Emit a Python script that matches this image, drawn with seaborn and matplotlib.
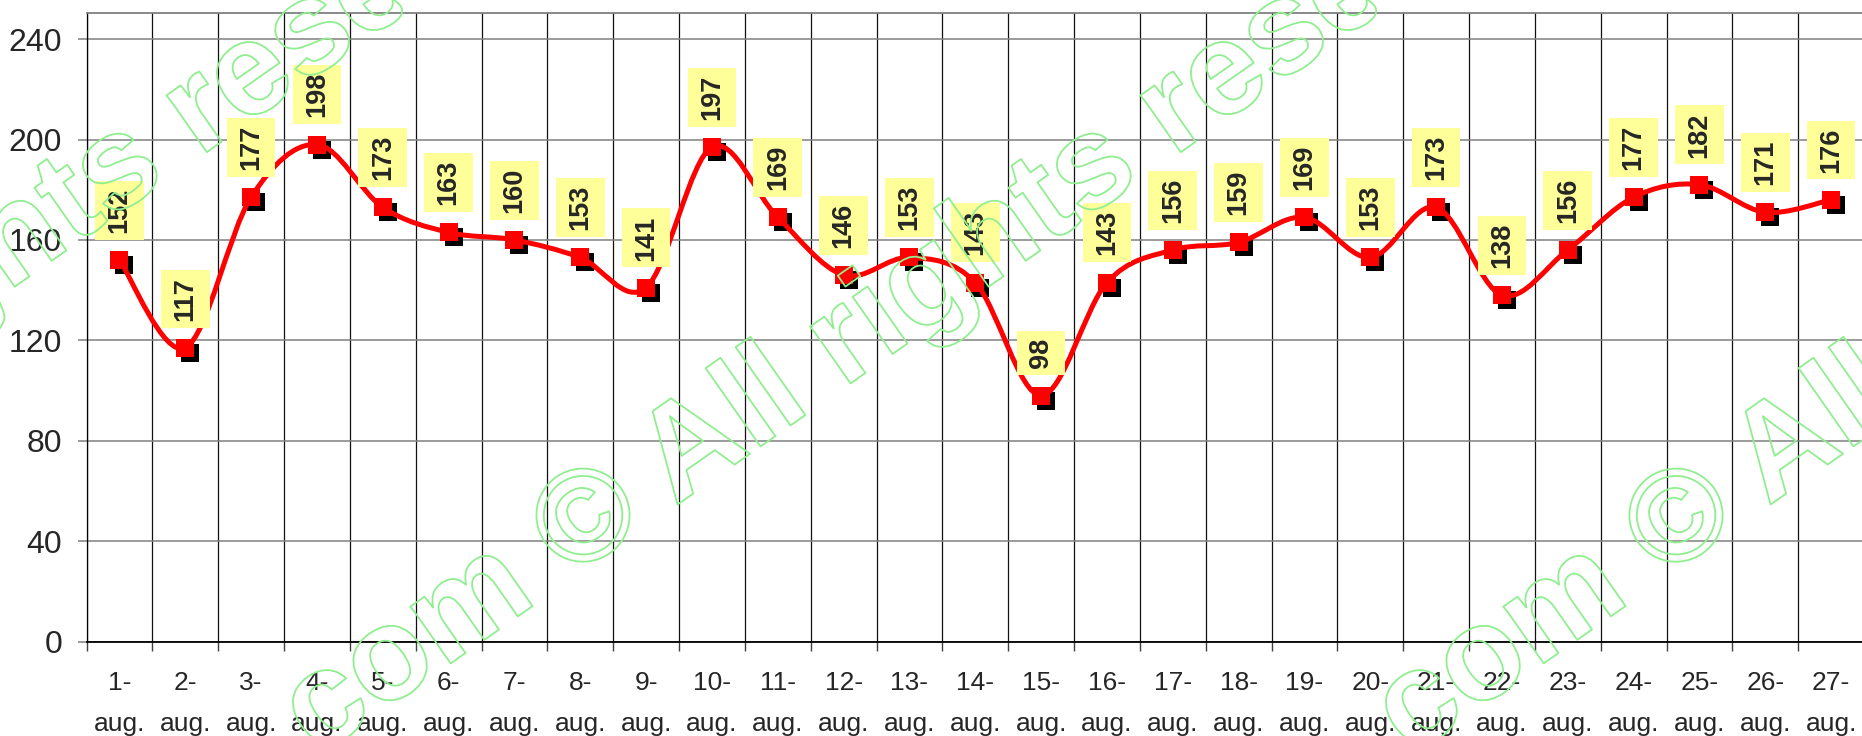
import numpy as np
import pandas as pd
import seaborn as sns
import matplotlib.pyplot as plt
from matplotlib.path import Path
from matplotlib.patches import PathPatch
from matplotlib.ticker import FixedLocator
from matplotlib.transforms import offset_copy
from matplotlib import patheffects as pe

# data
day_numbers = list(range(1, 28))
day_labels = [f"{d}-\naug." for d in day_numbers]
values = [152, 117, 177, 198, 173, 163, 160, 153, 141, 197, 169, 146, 153, 143,
          98, 143, 156, 159, 169, 153, 173, 138, 156, 177, 182, 171, 176]
y_ticks = [0, 40, 80, 120, 160, 200, 240]
watermark = "com \u00a9 All rights reserved"

sns.set_style('white')
plt.rcParams['font.family'] = ['Liberation Sans', 'DejaVu Sans']

W, H = 1862, 736
fig = plt.figure(figsize=(W / 100, H / 100), dpi=100)
ax = fig.add_axes([86.5 / W, (H - 641.5) / H, 1777.5 / W, (641.5 - 13) / H])

df = pd.DataFrame({'day': np.arange(len(values)), 'value': values})

# smoothed line (excel style bezier through the points)
xs = df['day'].to_numpy(dtype=float)
ys = df['value'].to_numpy(dtype=float)
n = len(xs)
verts = [(xs[0], ys[0])]
codes = [Path.MOVETO]
for i in range(n - 1):
    x0, y0 = (xs[i - 1], ys[i - 1]) if i > 0 else (xs[i], ys[i])
    x3, y3 = (xs[i + 2], ys[i + 2]) if i + 2 < n else (xs[i + 1], ys[i + 1])
    c1 = (xs[i] + (xs[i + 1] - x0) / 6, ys[i] + (ys[i + 1] - y0) / 6)
    c2 = (xs[i + 1] - (x3 - xs[i]) / 6, ys[i + 1] - (y3 - ys[i]) / 6)
    verts += [c1, c2, (xs[i + 1], ys[i + 1])]
    codes += [Path.CURVE4] * 3
ax.add_patch(PathPatch(Path(verts, codes), fc='none', ec='#ff0000', lw=3.6,
                       capstyle='round', joinstyle='round', zorder=4))

# markers with black shadow
shadow = offset_copy(ax.transData, fig=fig, x=5, y=-5, units='dots')
sns.scatterplot(data=df, x='day', y='value', marker='s', s=165, color='black',
                linewidth=0, transform=shadow, zorder=3, ax=ax, legend=False)
sns.scatterplot(data=df, x='day', y='value', marker='s', s=165, color='#ff0000',
                linewidth=0, zorder=5, ax=ax, legend=False)


# label box: less padding along the text than across it
def label_box(x0, y0, width, height, mutation_size):
    pa = 0.25 * mutation_size
    pc = 0.42 * mutation_size
    return Path([(x0 - pa, y0 - pc), (x0 + width + pa, y0 - pc),
                 (x0 + width + pa, y0 + height + pc), (x0 - pa, y0 + height + pc),
                 (x0 - pa, y0 - pc)], closed=True)


# data labels
for xi, v in zip(df['day'], df['value']):
    ax.annotate(str(v), (xi, v), xytext=(0, 19.5), textcoords='offset points',
                rotation=90, ha='center', va='bottom', fontsize=19.5,
                fontweight='bold', zorder=6,
                bbox=dict(boxstyle=label_box, fc='#ffff99', ec='none'))

ax.set_xlim(-0.5, n - 0.5)
ax.set_ylim(0, 250.4)
ax.set_xlabel('')
ax.set_ylabel('')

ax.set_yticks(y_ticks)
ax.set_yticklabels([str(t) for t in y_ticks], fontsize=23)
ax.set_xticks(df['day'])
ax.set_xticklabels(day_labels, fontsize=19, linespacing=1.9)
ax.xaxis.set_minor_locator(FixedLocator(np.arange(-0.5, n, 1.0)))

ax.tick_params(axis='x', which='major', length=0, pad=21)
ax.tick_params(axis='x', which='minor', length=6.5, width=1, color='#404040',
               direction='out', bottom=True)
ax.tick_params(axis='y', length=6.5, width=1.1, color='#808080', pad=11,
               left=True)

ax.grid(False)
ax.yaxis.grid(True, color='#808080', lw=1.1)
ax.xaxis.grid(True, which='minor', color='#101010', lw=0.9)
ax.set_axisbelow(True)

for side in ['left', 'bottom']:
    ax.spines[side].set_color('black')
ax.spines['left'].set_linewidth(0.9)
ax.spines['bottom'].set_linewidth(1.3)
ax.spines['top'].set_color('#808080')
ax.spines['top'].set_linewidth(1.3)
ax.spines['right'].set_visible(False)

# watermark, outlined, three diagonal lines
for start_x in (-657, 317, 1410):
    fig.text(start_x / W, -21 / H, watermark, rotation=35,
             rotation_mode='anchor', ha='left', va='baseline', fontsize=95,
             fontweight='bold', color=(1, 1, 1, 0), zorder=10,
             path_effects=[pe.Stroke(linewidth=1.3, foreground='#90ee90')])

fig.savefig('out.png', dpi=100)
